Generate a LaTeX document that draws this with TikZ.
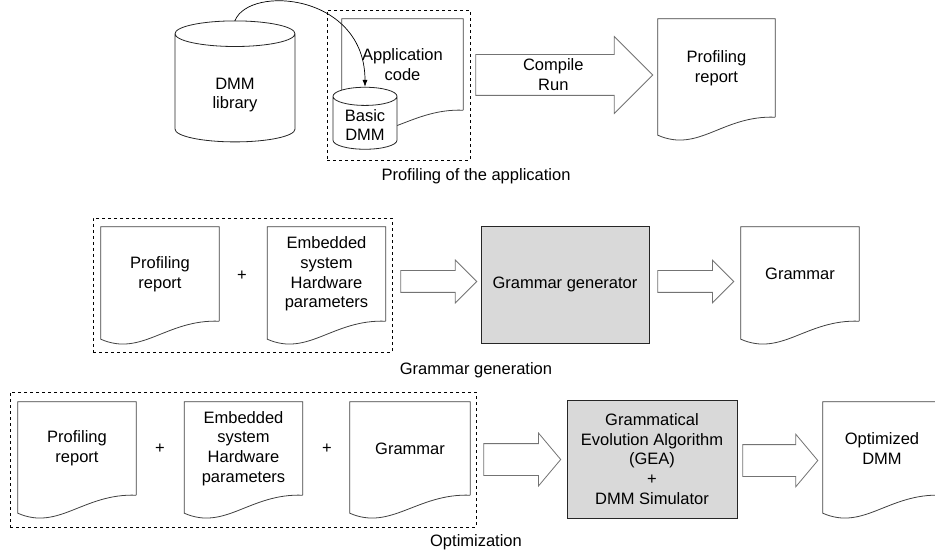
\documentclass[tikz,border=0pt]{standalone}
\usepackage{fontspec}
\setmainfont{Liberation Sans}
\usetikzlibrary{shapes.geometric}
\usetikzlibrary{shapes.arrows}
\usetikzlibrary{calc}
\usetikzlibrary{arrows.meta}
\usepackage{xcolor}
\definecolor{boxgray}{HTML}{D9D9D9}

\begin{document}
\begin{tikzpicture}[x=1pt, y=-1pt]
        % ================= styles =================
        \tikzset{
            txt/.style={font=\fontsize{16.5}{19.8}\selectfont, align=center},
            doc/.style={txt, inner sep=0pt, minimum width=118pt},
            docline/.style={draw=black!75, line width=0.8pt},
            store/.style={txt, cylinder, shape border rotate=90, draw=black!85, line width=0.8pt, fill=white, inner sep=0pt},
            proc/.style={txt, draw=black!85, line width=0.8pt, fill=boxgray},
            frame/.style={draw=black, dashed, line width=0.6pt, inner sep=0pt},
            bigarrow/.style={single arrow, anchor=tail, draw=black!55, line width=0.8pt, fill=white, inner xsep=0pt, single arrow head extend=10.5pt}
        }

        % canvas: same size as the reference
        \useasboundingbox (0,0) rectangle (935,556);
        \clip (0,0) rectangle (935,556);

        % ================= dashed groups =================
        \node[frame, minimum width=143pt, minimum height=150pt] (grp0) at (398.5, 85) {};
        \node[frame, minimum width=299pt, minimum height=134pt] (grp1) at (242.5, 285) {};
        \node[frame, minimum width=466pt, minimum height=135pt] (grp2) at (243, 459.5) {};

        % ================= documents =================
        % top row
        \node[doc, minimum width=121pt, minimum height=91pt] (app) at (402.5, 64.5) {Application\\code};
        \node[doc, minimum width=117pt, minimum height=98pt] (prof0) at (716.5, 68) {Profiling\\report};
        % middle row
        \node[doc, minimum height=94pt] (prof1) at (160, 274) {Profiling\\report};
        \node[doc, minimum height=94pt] (hw1) at (326.5, 274) {Embedded\\system\\Hardware\\parameters};
        \node[doc, minimum height=94pt] (gram1) at (800, 274) {Grammar};
        % bottom row
        \node[doc, minimum height=93pt] (prof2) at (77, 448.5) {Profiling\\report};
        \node[doc, minimum height=93pt] (hw2) at (243.5, 448.5) {Embedded\\system\\Hardware\\parameters};
        \node[doc, minimum width=120pt, minimum height=93pt] (gram2) at (410, 448.5) {Grammar};
        \node[doc, minimum height=93pt] (opt) at (882, 448.5) {Optimized\\DMM};

        % page outline with the wavy bottom edge
        \foreach \d in {app, prof0, prof1, hw1, gram1, prof2, hw2, gram2, opt}
            \draw[docline] (\d.south east) -- (\d.north east) -- (\d.north west)
                -- ($(\d.south west)+(0,18)$) .. controls +(41,18) and +(-53,-2) .. (\d.south east);

        % ================= storages =================
        % (phantom text keeps the cylinder ends round, label sits lower in the body)
        \node[store, aspect=0.57, minimum width=120pt, minimum height=121pt] (lib) at (235, 88) {\phantom{DMM}\\\phantom{library}};
        \node[txt] (libtxt) at ([yshift=-7pt]lib.center) {DMM\\library};
        \node[store, aspect=0.45, minimum width=64pt, minimum height=62pt] (basic) at (365, 123) {\phantom{Basic}\\\phantom{DMM}};
        \node[txt] (basictxt) at ([yshift=-2pt]basic.center) {Basic\\DMM};

        \draw[-{Latex[length=7pt,width=5pt]}, line width=0.7pt] (lib.north) .. controls +(15,-36) and +(0,-93) .. (basic.north);

        % ================= processes =================
        \node[proc, minimum width=168pt, minimum height=117pt] (gen) at (565, 284.5) {Grammar generator};
        \node[proc, minimum width=170pt, minimum height=118pt] (gea) at (652, 459) {Grammatical\\Evolution Algorithm\\(GEA)\\+\\DMM Simulator};

        % plus signs
        \node[txt] (plus1) at (242, 276) {+};
        \node[txt] (plus2) at (160, 449) {+};
        \node[txt] (plus3) at (327, 449) {+};

        % ================= block arrows =================
        \node[bigarrow, minimum height=177pt, inner ysep=20pt, single arrow head extend=18pt] (run) at ([xshift=5pt, yshift=10pt]grp0.east) {};
        \node[txt] (runlbl) at ([xshift=78pt]run.tail) {Compile\\Run};
        \node[bigarrow, minimum height=76pt, inner ysep=10.5pt] (arr1) at ([xshift=8pt, yshift=3.5pt]grp1.east) {};
        \node[bigarrow, minimum height=76pt, inner ysep=10.5pt] (arr2) at ([xshift=8pt, yshift=3pt]gen.east) {};
        \node[bigarrow, minimum height=77pt, inner ysep=15.5pt, single arrow tip angle=100] (arr3) at ([xshift=7pt]grp2.east) {};
        \node[bigarrow, minimum height=75pt, inner ysep=15.5pt, single arrow tip angle=100] (arr4) at ([xshift=5pt, yshift=-1.5pt]gea.east) {};

        % ================= captions =================
        \node[txt] (cap0) at (476, 176) {Profiling of the application};
        \node[txt] (cap1) at (476, 370) {Grammar generation};
        \node[txt] (cap2) at (476, 542) {Optimization};

    \end{tikzpicture}
\end{document}
